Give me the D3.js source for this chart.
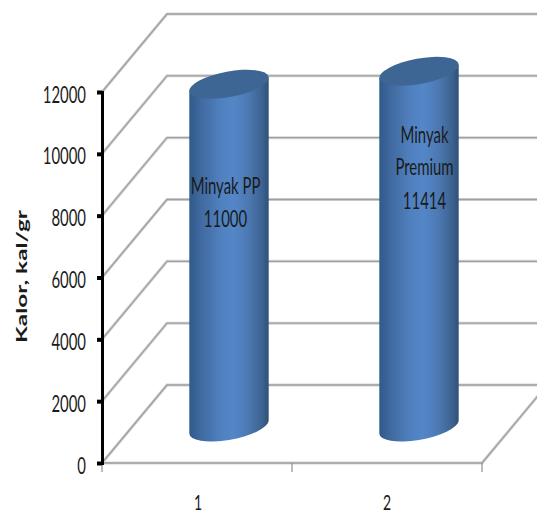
<!DOCTYPE html>
<html>
<head>
<meta charset="utf-8">
<script src="https://cdn.jsdelivr.net/npm/d3@7"></script>
<style>
html,body{margin:0;padding:0;background:#fff;overflow:hidden}
svg{display:block}
text{font-family:Lato,"Liberation Sans",sans-serif;fill:#1a1a1a}
</style>
</head>
<body>
<script>
// Heating value of two fuel oils, drawn as a pseudo-3D cylinder chart
const categories = ["1", "2"];
const values = [11000, 11414];
const barLabels = [["Minyak PP", "11000"], ["Minyak", "Premium", "11414"]];
const yTicks = [0, 2000, 4000, 6000, 8000, 10000, 12000];
const yTitle = "Kalor, kal/gr";

const W = 537, H = 515;
const depth = {dx: 65, dy: -78};          // shift from the front plane to the back wall
const barDepthY = -36;                    // cylinder axis sits part way back
const narrow = "scale(0.635,1)";          // condensed look for all labels
const fontPx = 23.5;
const svg = d3.select("body").append("svg").attr("width", W).attr("height", H);

const y = d3.scaleLinear().domain([0, 12000]).range([463, 92]);
const yBar = d3.scaleLinear().domain([0, 12000]).range([463 + barDepthY, 463 + barDepthY - 374]);
const x = d3.scaleBand().domain(categories).range([102, 482]);
const xEdges = [102, x.bandwidth() + 102, 482];

// cylinder gradient
const defs = svg.append("defs");
const grad = defs.append("linearGradient").attr("id", "cyl").attr("x1", 0).attr("x2", 1).attr("y1", 0).attr("y2", 0);
[[0, "#2f5a8b"], [0.14, "#40699f"], [0.38, "#4f7fbd"], [0.55, "#5487c8"], [0.75, "#4c78b2"], [0.92, "#3c628f"], [1, "#2f5078"]]
  .forEach(([o, c]) => grad.append("stop").attr("offset", o).attr("stop-color", c));

// walls and floor
const grid = svg.append("g").attr("fill", "none");
const gridPath = v => d3.line()([[102, y(v)], [102 + depth.dx, y(v) + depth.dy], [W, y(v) + depth.dy]]);
grid.selectAll("path.halo").data(yTicks).join("path").attr("class", "halo")
  .attr("d", gridPath).attr("stroke", "#d4d4d4").attr("stroke-width", 3);
grid.selectAll("path.line").data(yTicks).join("path").attr("class", "line")
  .attr("d", gridPath).attr("stroke", "#9f9f9f").attr("stroke-width", 1.3);

// floor front edge, its right side and category ticks
const floor = svg.append("g").attr("fill", "none");
const floorLine = d3.line()([[102, y(0)], [482, y(0)], [482 + 56, y(0) + depth.dy * 56 / depth.dx]]);
floor.append("path").attr("d", floorLine).attr("stroke", "#d4d4d4").attr("stroke-width", 3);
floor.append("path").attr("d", floorLine).attr("stroke", "#9f9f9f").attr("stroke-width", 1.3);
floor.selectAll("line").data(xEdges).join("line")
  .attr("x1", d => d).attr("x2", d => d).attr("y1", y(0)).attr("y2", y(0) + 9)
  .attr("stroke", "#8f8f8f").attr("stroke-width", 1.2);

// cylinders
const a = 40.3, b = 12.7, tilt = -10.5;
const rad = tilt * Math.PI / 180;
const halfW = Math.hypot(a * Math.cos(rad), b * Math.sin(rad));
const tangentDy = (a * a - b * b) * Math.sin(-rad) * Math.cos(rad) / halfW;

const bars = svg.append("g").selectAll("g").data(values).join("g")
  .attr("transform", (d, i) => `translate(${x(categories[i]) + x.bandwidth() / 2 + 32},0)`);

bars.append("path")
  .attr("fill", "url(#cyl)")
  .attr("d", d => {
    const top = yBar(d), base = yBar(0);
    return `M${-halfW},${top + tangentDy} L${-halfW},${base + tangentDy}` +
      ` A${a},${b} ${tilt} 0 0 ${halfW},${base - tangentDy}` +
      ` L${halfW},${top - tangentDy} Z`;
  });

bars.append("ellipse")
  .attr("rx", a).attr("ry", b)
  .attr("transform", d => `translate(0,${yBar(d)}) rotate(${tilt})`)
  .attr("fill", "#3d6695");

// value labels on the cylinders
const labelRows = [[194, 227], [143, 175, 209]];
const labelX = [-3.5, 5.5];
bars.each(function (d, i) {
  d3.select(this).selectAll("text").data(barLabels[i]).join("text")
    .attr("text-anchor", "middle")
    .attr("transform", (t, k) => `translate(${labelX[i]},${labelRows[i][k]}) ${narrow}`)
    .attr("font-size", fontPx)
    .attr("fill", "#10161f")
    .text(t => t);
});

// value axis
const axis = d3.axisLeft(y).tickValues(yTicks).tickFormat(d3.format("d")).tickSize(5);
const axisG = svg.append("g").attr("transform", "translate(102,0)").call(axis);
axisG.select(".domain").attr("stroke", "#000").attr("stroke-width", 3);
axisG.selectAll(".tick line").attr("stroke", "#000").attr("stroke-width", 4);
axisG.selectAll(".tick text")
  .attr("x", null).attr("dy", null)
  .attr("transform", `translate(-16,10) ${narrow}`)
  .attr("font-size", fontPx).attr("font-family", "Lato,sans-serif").attr("fill", "#1a1a1a");

// category labels
const catX = [198, 387];
svg.append("g").selectAll("text").data(categories).join("text")
  .attr("transform", (d, i) => `translate(${catX[i]},510) ${narrow}`)
  .attr("text-anchor", "middle")
  .attr("font-size", 22)
  .text(d => d);

// axis title
svg.append("text")
  .attr("transform", "translate(27,276.5) rotate(-90)")
  .attr("text-anchor", "middle")
  .attr("font-family", "'Liberation Sans',sans-serif")
  .attr("font-weight", "bold")
  .attr("font-size", 15.5)
  .attr("textLength", 133)
  .attr("lengthAdjust", "spacingAndGlyphs")
  .attr("fill", "#111")
  .text(yTitle);
</script>
</body>
</html>
